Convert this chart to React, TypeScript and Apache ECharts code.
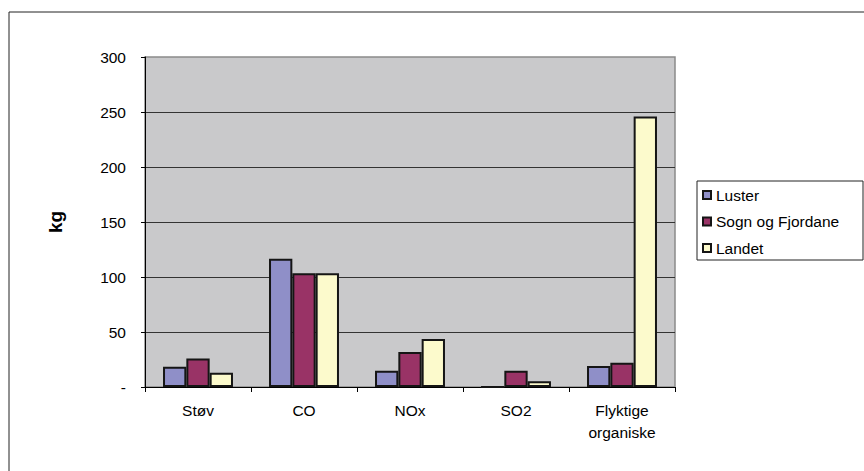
import React, { useEffect, useRef } from "react";
import * as echarts from "echarts";

const categories = ["Støv", "CO", "NOx", "SO2", "Flyktige\norganiske"];
const seriesNames = ["Luster", "Sogn og Fjordane", "Landet"];
const luster = [18.4, 116.5, 14.7, 0, 19];
const sognOgFjordane = [26, 103.5, 31.9, 14.7, 22];
const landet = [12.9, 103.5, 43.6, 5.2, 246];
const yTicks = [0, 50, 100, 150, 200, 250, 300];
const colors = ["#8F8FC8", "#993366", "#FCFACC"];

const FONT = "'Liberation Sans', Arial, sans-serif";

export default function App() {
  const ref = useRef<HTMLDivElement>(null);
  useEffect(() => {
    if (!ref.current) return;
    const chart = echarts.init(ref.current, undefined, { renderer: "svg" });
    const values = [luster, sognOgFjordane, landet];
    chart.setOption({
      animation: false,
      textStyle: { fontFamily: FONT },
      graphic: [
        {
          type: "rect",
          shape: { x: 9, y: 12, width: 900, height: 500 },
          style: { fill: "none", stroke: "#222", lineWidth: 1 },
          z: -10,
        },
        {
          type: "rect",
          shape: { x: 697, y: 181, width: 166, height: 79 },
          style: { fill: "#fff", stroke: "#222", lineWidth: 1 },
          z: 0,
        },
      ],
      grid: {
        left: 145,
        top: 57,
        right: 189,
        bottom: 84,
        show: true,
        backgroundColor: "#C9C9CB",
        borderColor: "#8A8A8A",
        borderWidth: 1.5,
      },
      legend: {
        data: seriesNames,
        orient: "vertical",
        left: 702,
        top: 187,
        padding: 0,
        itemWidth: 8,
        itemHeight: 8,
        itemGap: 10.5,
        icon: "rect",
        z: 5,
        textStyle: {
          fontFamily: FONT,
          fontSize: 15.5,
          lineHeight: 16,
          color: "#000",
        },
      },
      xAxis: {
        type: "category",
        data: categories,
        axisLine: { lineStyle: { color: "#000", width: 1 } },
        axisTick: { show: true, length: 5, lineStyle: { color: "#000" } },
        axisLabel: {
          margin: 12,
          fontSize: 15.5,
          lineHeight: 22,
          color: "#000",
          fontFamily: FONT,
        },
      },
      yAxis: {
        type: "value",
        min: 0,
        max: 300,
        interval: 50,
        name: "kg",
        nameLocation: "middle",
        nameRotate: 90,
        nameGap: 80,
        nameTextStyle: {
          fontFamily: FONT,
          fontSize: 19,
          fontWeight: "bold",
          color: "#000",
        },
        axisLine: { show: true, lineStyle: { color: "#000", width: 1 } },
        axisTick: { show: true, length: 4, lineStyle: { color: "#000" } },
        axisLabel: {
          margin: 19,
          fontSize: 15.5,
          color: "#000",
          fontFamily: FONT,
          formatter: (v: number) => (yTicks.includes(v) && v === 0 ? "-" : String(v)),
        },
        splitLine: {
          show: true,
          showMaxLine: false,
          lineStyle: { color: "#333", width: 1 },
        },
      },
      series: seriesNames.map((name, i) => ({
        name,
        type: "bar",
        data: values[i],
        barGap: "0%",
        barCategoryGap: "34%",
        itemStyle: {
          color: colors[i],
          borderColor: "#151515",
          borderWidth: 2,
        },
      })),
    });
    return () => chart.dispose();
  }, []);
  return <div ref={ref} style={{ width: 864, height: 471, position: "absolute", left: 0, top: 0 }} />;
}
